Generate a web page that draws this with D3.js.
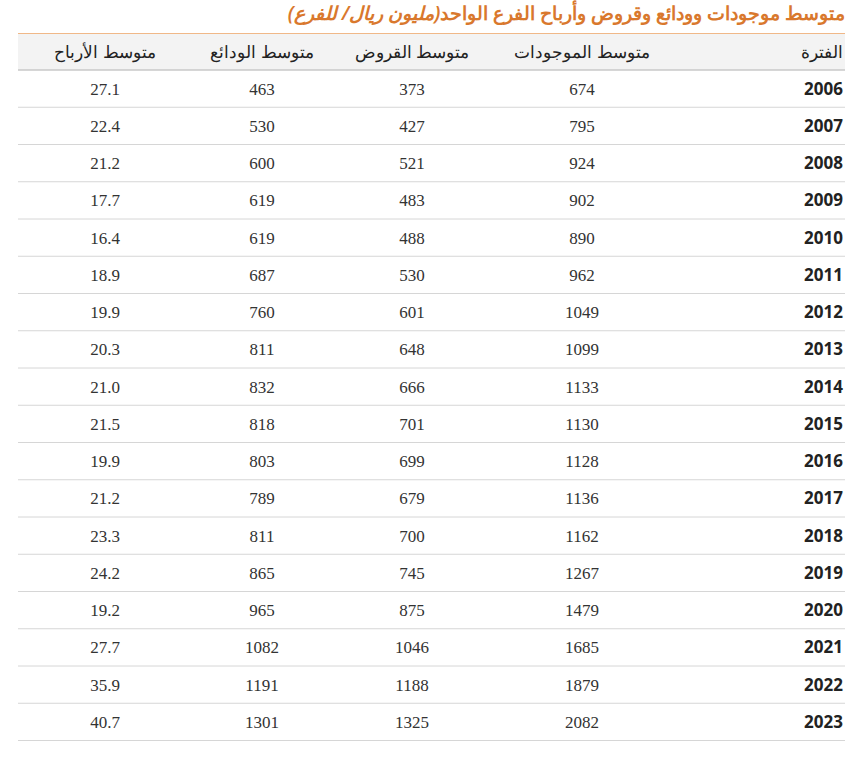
<!DOCTYPE html>
<html><head><meta charset="utf-8">
<script src="https://cdn.jsdelivr.net/npm/d3@7"></script>
<style>body{margin:0;background:#fff}</style>
</head><body><svg id="chart"></svg>
<script>
const title = "متوسط موجودات وودائع وقروض وأرباح الفرع الواحد";
const titleUnit = "(مليون ريال/ للفرع)";
const headers = ["الفترة", "متوسط الموجودات", "متوسط القروض", "متوسط الودائع", "متوسط الأرباح"];
const years = ["2006","2007","2008","2009","2010","2011","2012","2013","2014","2015","2016","2017","2018","2019","2020","2021","2022","2023"];
const assets = [674,795,924,902,890,962,1049,1099,1133,1130,1128,1136,1162,1267,1479,1685,1879,2082];
const loans = [373,427,521,483,488,530,601,648,666,701,699,679,700,745,875,1046,1188,1325];
const deposits = [463,530,600,619,619,687,760,811,832,818,803,789,811,865,965,1082,1191,1301];
const profits = ["27.1","22.4","21.2","17.7","16.4","18.9","19.9","20.3","21.0","21.5","19.9","21.2","23.3","24.2","19.2","27.7","35.9","40.7"];

const width = 865, height = 760;
const left = 18, right = 845, headTop = 34, headH = 36, rowH = 37.25;
const svg = d3.select("#chart").attr("width", width).attr("height", height);

// title
const t = svg.append("text").attr("x", right).attr("y", 20)
  .attr("text-anchor", "start").attr("direction", "rtl")
  .attr("font-family", "Noto Sans, sans-serif").attr("font-size", 19)
  .attr("font-weight", 600).attr("fill", "#d9782d");
t.append("tspan").text(title);
t.append("tspan").attr("font-style", "italic").text(titleUnit);
svg.append("line").attr("x1", left).attr("x2", right).attr("y1", 33.5).attr("y2", 33.5)
  .attr("stroke", "#f0b888").attr("stroke-width", 1);

// header
svg.append("rect").attr("x", left).attr("y", headTop).attr("width", right - left).attr("height", headH)
  .attr("fill", "#f3f3f3");
svg.append("line").attr("x1", left).attr("x2", right).attr("y1", headTop + headH).attr("y2", headTop + headH)
  .attr("stroke", "#c8c8c8").attr("stroke-width", 1.5);

const colX = d3.scaleOrdinal().domain(d3.range(5)).range([843, 582, 412, 262, 105]);
const colAnchor = i => i === 0 ? "end" : "middle";

svg.selectAll(".head").data(headers).join("text").attr("class", "head")
  .attr("x", (d, i) => colX(i)).attr("y", headTop + headH / 2 + 6)
  .attr("text-anchor", (d, i) => colAnchor(i))
  .attr("font-family", "Noto Sans, sans-serif").attr("font-size", 17).attr("font-weight", 500)
  .attr("fill", "#222").text(d => d);

const y = d3.scaleBand().domain(years).range([headTop + headH, headTop + headH + rowH * years.length]);

const rows = years.map((yr, i) => [yr, assets[i], loans[i], deposits[i], profits[i]]);
const g = svg.selectAll(".row").data(rows).join("g").attr("class", "row")
  .attr("transform", d => `translate(0,${y(d[0])})`);
g.append("line").attr("x1", left).attr("x2", right).attr("y1", rowH).attr("y2", rowH)
  .attr("stroke", "#d6d6d6").attr("stroke-width", 1);
g.selectAll("text").data(d => d).join("text")
  .attr("x", (d, i) => colX(i)).attr("y", rowH / 2 + 6)
  .attr("text-anchor", (d, i) => colAnchor(i))
  .attr("font-family", (d, i) => i === 0 ? "Noto Sans, sans-serif" : "Liberation Serif, serif")
  .attr("font-weight", (d, i) => i === 0 ? 700 : 400)
  .attr("font-size", 17)
  .attr("fill", (d, i) => i === 0 ? "#222" : "#333")
  .text(d => d);
</script></body></html>
